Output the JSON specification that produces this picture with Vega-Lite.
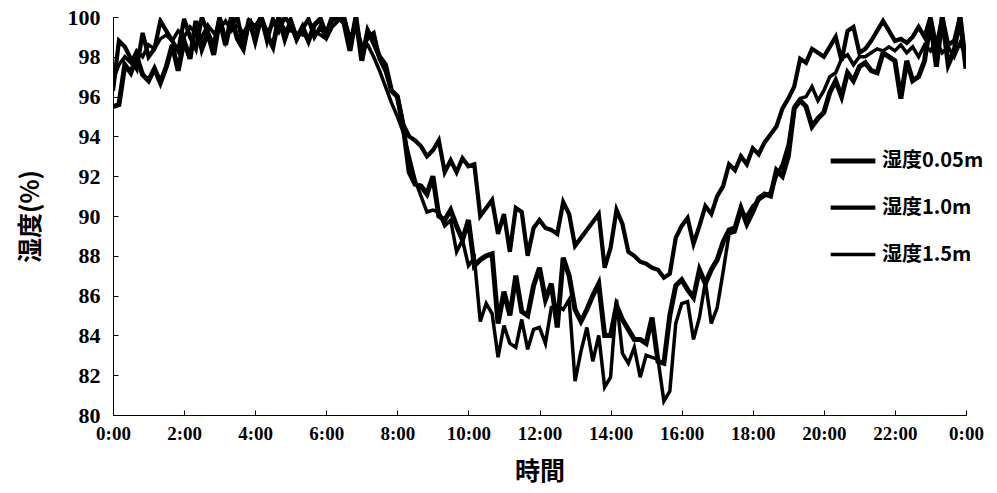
{
"$schema":"https://vega.github.io/schema/vega-lite/v6.json",
"width":853,"height":398,
"autosize":"none",
"padding":{"left":113,"top":17,"right":31,"bottom":78},
"background":"white",
"config":{"view":{"stroke":null}},
"data":{"values":[
{"m":0,"s":"0.05m","h":95.5},{"m":10,"s":"0.05m","h":95.6},{"m":20,"s":"0.05m","h":97.6},{"m":30,"s":"0.05m","h":97.2},{"m":40,"s":"0.05m","h":98.0},{"m":50,"s":"0.05m","h":97.1},
{"m":60,"s":"0.05m","h":96.8},{"m":70,"s":"0.05m","h":97.4},{"m":80,"s":"0.05m","h":96.7},{"m":90,"s":"0.05m","h":97.5},{"m":100,"s":"0.05m","h":98.6},{"m":110,"s":"0.05m","h":97.3},
{"m":120,"s":"0.05m","h":98.8},{"m":130,"s":"0.05m","h":97.9},{"m":140,"s":"0.05m","h":99.8},{"m":150,"s":"0.05m","h":98.4},{"m":160,"s":"0.05m","h":99.2},{"m":170,"s":"0.05m","h":98.1},
{"m":180,"s":"0.05m","h":99.9},{"m":190,"s":"0.05m","h":98.6},{"m":200,"s":"0.05m","h":100},{"m":210,"s":"0.05m","h":98.9},{"m":220,"s":"0.05m","h":98.4},{"m":230,"s":"0.05m","h":99.9},
{"m":240,"s":"0.05m","h":98.8},{"m":250,"s":"0.05m","h":100},{"m":260,"s":"0.05m","h":99.1},{"m":270,"s":"0.05m","h":98.5},{"m":280,"s":"0.05m","h":100},{"m":290,"s":"0.05m","h":98.9},
{"m":300,"s":"0.05m","h":99.8},{"m":310,"s":"0.05m","h":98.9},{"m":320,"s":"0.05m","h":99.5},{"m":330,"s":"0.05m","h":98.8},{"m":340,"s":"0.05m","h":99.6},{"m":350,"s":"0.05m","h":99.9},
{"m":360,"s":"0.05m","h":99.1},{"m":370,"s":"0.05m","h":100},{"m":380,"s":"0.05m","h":100},{"m":390,"s":"0.05m","h":99.7},{"m":400,"s":"0.05m","h":98.3},{"m":410,"s":"0.05m","h":100},
{"m":420,"s":"0.05m","h":97.8},{"m":430,"s":"0.05m","h":99.3},{"m":440,"s":"0.05m","h":98.7},{"m":450,"s":"0.05m","h":98.0},{"m":460,"s":"0.05m","h":97.6},{"m":470,"s":"0.05m","h":96.3},
{"m":480,"s":"0.05m","h":96.0},{"m":490,"s":"0.05m","h":94.5},{"m":500,"s":"0.05m","h":92.2},{"m":510,"s":"0.05m","h":91.6},{"m":520,"s":"0.05m","h":91.5},{"m":530,"s":"0.05m","h":91.1},
{"m":540,"s":"0.05m","h":92.0},{"m":550,"s":"0.05m","h":90.0},{"m":560,"s":"0.05m","h":89.8},{"m":570,"s":"0.05m","h":90.3},{"m":580,"s":"0.05m","h":89.5},{"m":590,"s":"0.05m","h":88.8},
{"m":600,"s":"0.05m","h":89.8},{"m":610,"s":"0.05m","h":87.5},{"m":620,"s":"0.05m","h":87.8},{"m":630,"s":"0.05m","h":88.0},{"m":640,"s":"0.05m","h":88.1},{"m":650,"s":"0.05m","h":84.6},
{"m":660,"s":"0.05m","h":86.2},{"m":670,"s":"0.05m","h":85.0},{"m":680,"s":"0.05m","h":87.0},{"m":690,"s":"0.05m","h":85.2},{"m":700,"s":"0.05m","h":85.0},{"m":710,"s":"0.05m","h":86.5},
{"m":720,"s":"0.05m","h":87.4},{"m":730,"s":"0.05m","h":85.8},{"m":740,"s":"0.05m","h":86.6},{"m":750,"s":"0.05m","h":84.4},{"m":760,"s":"0.05m","h":87.9},{"m":770,"s":"0.05m","h":87.0},
{"m":780,"s":"0.05m","h":85.3},{"m":790,"s":"0.05m","h":84.7},{"m":800,"s":"0.05m","h":85.3},{"m":810,"s":"0.05m","h":86.0},{"m":820,"s":"0.05m","h":86.6},{"m":830,"s":"0.05m","h":84.0},
{"m":840,"s":"0.05m","h":84.0},{"m":850,"s":"0.05m","h":85.5},{"m":860,"s":"0.05m","h":84.8},{"m":870,"s":"0.05m","h":84.3},{"m":880,"s":"0.05m","h":83.8},{"m":890,"s":"0.05m","h":83.8},
{"m":900,"s":"0.05m","h":83.6},{"m":910,"s":"0.05m","h":84.9},{"m":920,"s":"0.05m","h":82.7},{"m":930,"s":"0.05m","h":82.6},{"m":940,"s":"0.05m","h":85.0},{"m":950,"s":"0.05m","h":86.5},
{"m":960,"s":"0.05m","h":86.8},{"m":970,"s":"0.05m","h":86.3},{"m":980,"s":"0.05m","h":85.9},{"m":990,"s":"0.05m","h":87.3},{"m":1000,"s":"0.05m","h":86.6},{"m":1010,"s":"0.05m","h":87.3},
{"m":1020,"s":"0.05m","h":87.8},{"m":1030,"s":"0.05m","h":88.7},{"m":1040,"s":"0.05m","h":89.3},{"m":1050,"s":"0.05m","h":89.4},{"m":1060,"s":"0.05m","h":90.4},{"m":1070,"s":"0.05m","h":89.6},
{"m":1080,"s":"0.05m","h":90.2},{"m":1090,"s":"0.05m","h":90.9},{"m":1100,"s":"0.05m","h":91.1},{"m":1110,"s":"0.05m","h":91.0},{"m":1120,"s":"0.05m","h":92.3},{"m":1130,"s":"0.05m","h":92.0},
{"m":1140,"s":"0.05m","h":93.0},{"m":1150,"s":"0.05m","h":95.4},{"m":1160,"s":"0.05m","h":95.8},{"m":1170,"s":"0.05m","h":95.5},{"m":1180,"s":"0.05m","h":94.5},{"m":1190,"s":"0.05m","h":94.9},
{"m":1200,"s":"0.05m","h":95.2},{"m":1210,"s":"0.05m","h":96.2},{"m":1220,"s":"0.05m","h":96.8},{"m":1230,"s":"0.05m","h":96.0},{"m":1240,"s":"0.05m","h":97.2},{"m":1250,"s":"0.05m","h":96.8},
{"m":1260,"s":"0.05m","h":97.5},{"m":1270,"s":"0.05m","h":97.7},{"m":1280,"s":"0.05m","h":97.3},{"m":1290,"s":"0.05m","h":97.2},{"m":1300,"s":"0.05m","h":98.2},{"m":1310,"s":"0.05m","h":98.0},
{"m":1320,"s":"0.05m","h":97.8},{"m":1330,"s":"0.05m","h":95.9},{"m":1340,"s":"0.05m","h":97.8},{"m":1350,"s":"0.05m","h":96.8},{"m":1360,"s":"0.05m","h":97.0},{"m":1370,"s":"0.05m","h":97.8},
{"m":1380,"s":"0.05m","h":99.8},{"m":1390,"s":"0.05m","h":97.5},{"m":1400,"s":"0.05m","h":100},{"m":1410,"s":"0.05m","h":97.6},{"m":1420,"s":"0.05m","h":98.3},{"m":1430,"s":"0.05m","h":100},{"m":1440,"s":"0.05m","h":97.4},

{"m":0,"s":"1.0m","h":96.3},{"m":10,"s":"1.0m","h":98.8},{"m":20,"s":"1.0m","h":98.5},{"m":30,"s":"1.0m","h":97.9},{"m":40,"s":"1.0m","h":97.4},{"m":50,"s":"1.0m","h":99.2},
{"m":60,"s":"1.0m","h":98.0},{"m":70,"s":"1.0m","h":98.4},{"m":80,"s":"1.0m","h":99.8},{"m":90,"s":"1.0m","h":99.3},{"m":100,"s":"1.0m","h":98.8},{"m":110,"s":"1.0m","h":98.3},
{"m":120,"s":"1.0m","h":99.9},{"m":130,"s":"1.0m","h":99.0},{"m":140,"s":"1.0m","h":98.4},{"m":150,"s":"1.0m","h":100},{"m":160,"s":"1.0m","h":99.2},{"m":170,"s":"1.0m","h":98.6},
{"m":180,"s":"1.0m","h":100},{"m":190,"s":"1.0m","h":98.8},{"m":200,"s":"1.0m","h":99.6},{"m":210,"s":"1.0m","h":100},{"m":220,"s":"1.0m","h":98.5},{"m":230,"s":"1.0m","h":99.8},
{"m":240,"s":"1.0m","h":99.5},{"m":250,"s":"1.0m","h":100},{"m":260,"s":"1.0m","h":98.8},{"m":270,"s":"1.0m","h":99.9},{"m":280,"s":"1.0m","h":99.3},{"m":290,"s":"1.0m","h":100},
{"m":300,"s":"1.0m","h":99.6},{"m":310,"s":"1.0m","h":98.9},{"m":320,"s":"1.0m","h":99.4},{"m":330,"s":"1.0m","h":99.9},{"m":340,"s":"1.0m","h":99.0},{"m":350,"s":"1.0m","h":99.5},
{"m":360,"s":"1.0m","h":99.0},{"m":370,"s":"1.0m","h":99.8},{"m":380,"s":"1.0m","h":100},{"m":390,"s":"1.0m","h":100},{"m":400,"s":"1.0m","h":98.6},{"m":410,"s":"1.0m","h":99.8},
{"m":420,"s":"1.0m","h":98.2},{"m":430,"s":"1.0m","h":99.0},{"m":440,"s":"1.0m","h":99.2},{"m":450,"s":"1.0m","h":97.9},{"m":460,"s":"1.0m","h":97.3},{"m":470,"s":"1.0m","h":96.3},
{"m":480,"s":"1.0m","h":96.0},{"m":490,"s":"1.0m","h":94.6},{"m":500,"s":"1.0m","h":94.0},{"m":510,"s":"1.0m","h":93.8},{"m":520,"s":"1.0m","h":93.5},{"m":530,"s":"1.0m","h":93.0},
{"m":540,"s":"1.0m","h":93.3},{"m":550,"s":"1.0m","h":93.8},{"m":560,"s":"1.0m","h":92.2},{"m":570,"s":"1.0m","h":92.8},{"m":580,"s":"1.0m","h":92.2},{"m":590,"s":"1.0m","h":92.9},
{"m":600,"s":"1.0m","h":92.5},{"m":610,"s":"1.0m","h":92.6},{"m":620,"s":"1.0m","h":90.0},{"m":630,"s":"1.0m","h":90.4},{"m":640,"s":"1.0m","h":90.8},{"m":650,"s":"1.0m","h":89.1},
{"m":660,"s":"1.0m","h":90.1},{"m":670,"s":"1.0m","h":88.2},{"m":680,"s":"1.0m","h":90.4},{"m":690,"s":"1.0m","h":90.2},{"m":700,"s":"1.0m","h":88.0},{"m":710,"s":"1.0m","h":89.4},
{"m":720,"s":"1.0m","h":89.8},{"m":730,"s":"1.0m","h":89.4},{"m":740,"s":"1.0m","h":89.3},{"m":750,"s":"1.0m","h":89.1},{"m":760,"s":"1.0m","h":90.7},{"m":770,"s":"1.0m","h":90.1},
{"m":780,"s":"1.0m","h":88.5},{"m":790,"s":"1.0m","h":88.9},{"m":800,"s":"1.0m","h":89.3},{"m":810,"s":"1.0m","h":89.7},{"m":820,"s":"1.0m","h":90.1},{"m":830,"s":"1.0m","h":87.4},
{"m":840,"s":"1.0m","h":88.4},{"m":850,"s":"1.0m","h":90.3},{"m":860,"s":"1.0m","h":89.6},{"m":870,"s":"1.0m","h":88.2},{"m":880,"s":"1.0m","h":88.0},{"m":890,"s":"1.0m","h":87.7},
{"m":900,"s":"1.0m","h":87.6},{"m":910,"s":"1.0m","h":87.4},{"m":920,"s":"1.0m","h":87.3},{"m":930,"s":"1.0m","h":86.9},{"m":940,"s":"1.0m","h":87.1},{"m":950,"s":"1.0m","h":88.9},
{"m":960,"s":"1.0m","h":89.5},{"m":970,"s":"1.0m","h":89.9},{"m":980,"s":"1.0m","h":88.6},{"m":990,"s":"1.0m","h":89.5},{"m":1000,"s":"1.0m","h":90.5},{"m":1010,"s":"1.0m","h":90.1},
{"m":1020,"s":"1.0m","h":91.0},{"m":1030,"s":"1.0m","h":91.5},{"m":1040,"s":"1.0m","h":92.6},{"m":1050,"s":"1.0m","h":92.3},{"m":1060,"s":"1.0m","h":93.0},{"m":1070,"s":"1.0m","h":92.6},
{"m":1080,"s":"1.0m","h":93.4},{"m":1090,"s":"1.0m","h":93.1},{"m":1100,"s":"1.0m","h":93.7},{"m":1110,"s":"1.0m","h":94.1},{"m":1120,"s":"1.0m","h":94.5},{"m":1130,"s":"1.0m","h":95.4},
{"m":1140,"s":"1.0m","h":95.9},{"m":1150,"s":"1.0m","h":96.5},{"m":1160,"s":"1.0m","h":97.9},{"m":1170,"s":"1.0m","h":97.7},{"m":1180,"s":"1.0m","h":98.4},{"m":1190,"s":"1.0m","h":98.2},
{"m":1200,"s":"1.0m","h":98.0},{"m":1210,"s":"1.0m","h":98.5},{"m":1220,"s":"1.0m","h":99.0},{"m":1230,"s":"1.0m","h":97.8},{"m":1240,"s":"1.0m","h":99.3},{"m":1250,"s":"1.0m","h":99.5},
{"m":1260,"s":"1.0m","h":98.2},{"m":1270,"s":"1.0m","h":98.4},{"m":1280,"s":"1.0m","h":98.8},{"m":1290,"s":"1.0m","h":99.3},{"m":1300,"s":"1.0m","h":99.8},{"m":1310,"s":"1.0m","h":99.3},
{"m":1320,"s":"1.0m","h":98.8},{"m":1330,"s":"1.0m","h":98.9},{"m":1340,"s":"1.0m","h":98.7},{"m":1350,"s":"1.0m","h":99.0},{"m":1360,"s":"1.0m","h":99.5},{"m":1370,"s":"1.0m","h":99.0},
{"m":1380,"s":"1.0m","h":100},{"m":1390,"s":"1.0m","h":98.5},{"m":1400,"s":"1.0m","h":100},{"m":1410,"s":"1.0m","h":98.6},{"m":1420,"s":"1.0m","h":98.8},{"m":1430,"s":"1.0m","h":100},{"m":1440,"s":"1.0m","h":97.5},

{"m":0,"s":"1.5m","h":96.8},{"m":10,"s":"1.5m","h":97.6},{"m":20,"s":"1.5m","h":98.0},{"m":30,"s":"1.5m","h":97.7},{"m":40,"s":"1.5m","h":98.3},{"m":50,"s":"1.5m","h":98.0},
{"m":60,"s":"1.5m","h":98.6},{"m":70,"s":"1.5m","h":98.4},{"m":80,"s":"1.5m","h":98.9},{"m":90,"s":"1.5m","h":99.1},{"m":100,"s":"1.5m","h":98.8},{"m":110,"s":"1.5m","h":99.3},
{"m":120,"s":"1.5m","h":99.0},{"m":130,"s":"1.5m","h":99.5},{"m":140,"s":"1.5m","h":99.2},{"m":150,"s":"1.5m","h":99.0},{"m":160,"s":"1.5m","h":99.6},{"m":170,"s":"1.5m","h":99.2},
{"m":180,"s":"1.5m","h":99.4},{"m":190,"s":"1.5m","h":99.8},{"m":200,"s":"1.5m","h":99.3},{"m":210,"s":"1.5m","h":99.6},{"m":220,"s":"1.5m","h":99.2},{"m":230,"s":"1.5m","h":99.7},
{"m":240,"s":"1.5m","h":99.5},{"m":250,"s":"1.5m","h":99.9},{"m":260,"s":"1.5m","h":99.3},{"m":270,"s":"1.5m","h":99.6},{"m":280,"s":"1.5m","h":99.8},{"m":290,"s":"1.5m","h":99.4},
{"m":300,"s":"1.5m","h":99.3},{"m":310,"s":"1.5m","h":99.2},{"m":320,"s":"1.5m","h":99.1},{"m":330,"s":"1.5m","h":99.0},{"m":340,"s":"1.5m","h":99.3},{"m":350,"s":"1.5m","h":99.1},
{"m":360,"s":"1.5m","h":98.9},{"m":370,"s":"1.5m","h":99.5},{"m":380,"s":"1.5m","h":99.8},{"m":390,"s":"1.5m","h":100},{"m":400,"s":"1.5m","h":99.0},{"m":410,"s":"1.5m","h":99.5},
{"m":420,"s":"1.5m","h":98.6},{"m":430,"s":"1.5m","h":98.6},{"m":440,"s":"1.5m","h":98.0},{"m":450,"s":"1.5m","h":97.3},{"m":460,"s":"1.5m","h":96.5},{"m":470,"s":"1.5m","h":95.7},
{"m":480,"s":"1.5m","h":95.0},{"m":490,"s":"1.5m","h":94.2},{"m":500,"s":"1.5m","h":93.0},{"m":510,"s":"1.5m","h":91.8},{"m":520,"s":"1.5m","h":91.0},{"m":530,"s":"1.5m","h":90.2},
{"m":540,"s":"1.5m","h":90.3},{"m":550,"s":"1.5m","h":90.2},{"m":560,"s":"1.5m","h":89.5},{"m":570,"s":"1.5m","h":89.8},{"m":580,"s":"1.5m","h":88.2},{"m":590,"s":"1.5m","h":88.8},
{"m":600,"s":"1.5m","h":87.5},{"m":610,"s":"1.5m","h":87.9},{"m":620,"s":"1.5m","h":84.7},{"m":630,"s":"1.5m","h":85.6},{"m":640,"s":"1.5m","h":85.1},{"m":650,"s":"1.5m","h":82.9},
{"m":660,"s":"1.5m","h":84.5},{"m":670,"s":"1.5m","h":83.6},{"m":680,"s":"1.5m","h":83.4},{"m":690,"s":"1.5m","h":84.8},{"m":700,"s":"1.5m","h":83.3},{"m":710,"s":"1.5m","h":84.3},
{"m":720,"s":"1.5m","h":84.4},{"m":730,"s":"1.5m","h":83.6},{"m":740,"s":"1.5m","h":85.4},{"m":750,"s":"1.5m","h":85.5},{"m":760,"s":"1.5m","h":85.3},{"m":770,"s":"1.5m","h":85.8},
{"m":780,"s":"1.5m","h":81.7},{"m":790,"s":"1.5m","h":83.2},{"m":800,"s":"1.5m","h":84.4},{"m":810,"s":"1.5m","h":82.7},{"m":820,"s":"1.5m","h":84.0},{"m":830,"s":"1.5m","h":81.4},
{"m":840,"s":"1.5m","h":81.9},{"m":850,"s":"1.5m","h":85.8},{"m":860,"s":"1.5m","h":83.1},{"m":870,"s":"1.5m","h":82.6},{"m":880,"s":"1.5m","h":83.4},{"m":890,"s":"1.5m","h":81.9},
{"m":900,"s":"1.5m","h":83.0},{"m":910,"s":"1.5m","h":82.9},{"m":920,"s":"1.5m","h":82.8},{"m":930,"s":"1.5m","h":80.7},{"m":940,"s":"1.5m","h":81.2},{"m":950,"s":"1.5m","h":84.6},
{"m":960,"s":"1.5m","h":85.6},{"m":970,"s":"1.5m","h":85.7},{"m":980,"s":"1.5m","h":83.8},{"m":990,"s":"1.5m","h":84.9},{"m":1000,"s":"1.5m","h":86.7},{"m":1010,"s":"1.5m","h":84.6},
{"m":1020,"s":"1.5m","h":85.4},{"m":1030,"s":"1.5m","h":87.2},{"m":1040,"s":"1.5m","h":89.1},{"m":1050,"s":"1.5m","h":89.2},{"m":1060,"s":"1.5m","h":90.2},{"m":1070,"s":"1.5m","h":90.0},
{"m":1080,"s":"1.5m","h":90.5},{"m":1090,"s":"1.5m","h":90.8},{"m":1100,"s":"1.5m","h":91.0},{"m":1110,"s":"1.5m","h":91.2},{"m":1120,"s":"1.5m","h":92.0},{"m":1130,"s":"1.5m","h":92.6},
{"m":1140,"s":"1.5m","h":93.6},{"m":1150,"s":"1.5m","h":95.5},{"m":1160,"s":"1.5m","h":95.9},{"m":1170,"s":"1.5m","h":96.0},{"m":1180,"s":"1.5m","h":96.5},{"m":1190,"s":"1.5m","h":95.8},
{"m":1200,"s":"1.5m","h":96.3},{"m":1210,"s":"1.5m","h":97.0},{"m":1220,"s":"1.5m","h":97.2},{"m":1230,"s":"1.5m","h":97.9},{"m":1240,"s":"1.5m","h":98.1},{"m":1250,"s":"1.5m","h":97.6},
{"m":1260,"s":"1.5m","h":98.0},{"m":1270,"s":"1.5m","h":98.0},{"m":1280,"s":"1.5m","h":98.2},{"m":1290,"s":"1.5m","h":98.4},{"m":1300,"s":"1.5m","h":98.3},{"m":1310,"s":"1.5m","h":98.5},
{"m":1320,"s":"1.5m","h":98.3},{"m":1330,"s":"1.5m","h":98.6},{"m":1340,"s":"1.5m","h":98.2},{"m":1350,"s":"1.5m","h":98.5},{"m":1360,"s":"1.5m","h":98.0},{"m":1370,"s":"1.5m","h":98.6},
{"m":1380,"s":"1.5m","h":98.3},{"m":1390,"s":"1.5m","h":98.8},{"m":1400,"s":"1.5m","h":98.2},{"m":1410,"s":"1.5m","h":98.5},{"m":1420,"s":"1.5m","h":98.0},{"m":1430,"s":"1.5m","h":98.7},{"m":1440,"s":"1.5m","h":98.0}
]},
"mark":{"type":"line","color":"black","clip":true,"strokeJoin":"miter"},
"encoding":{
"x":{"field":"m","type":"quantitative","scale":{"domain":[0,1440],"nice":false,"zero":false},
"axis":{"values":[0,120,240,360,480,600,720,840,960,1080,1200,1320,1440],"labelExpr":"floor(datum.value/60)%24 + ':00'","title":"時間","grid":false,"domainColor":"black","domainWidth":1,"tickColor":"black","tickSize":-5,"labelFont":"Liberation Serif","labelFontWeight":"bold","labelFontSize":19,"labelColor":"black","labelPadding":14,"labelFlush":false,"labelOverlap":false,"titleFont":"Noto Sans CJK JP","titleFontSize":25,"titleFontWeight":"bold","titleColor":"black","titlePadding":16}},
"y":{"field":"h","type":"quantitative","scale":{"domain":[80,100],"nice":false,"zero":false},
"axis":{"values":[80,82,84,86,88,90,92,94,96,98,100],"title":"湿度(%)","grid":false,"domainColor":"black","domainWidth":1,"tickColor":"black","tickSize":-5,"labelFont":"Liberation Serif","labelFontWeight":"bold","labelFontSize":22,"labelColor":"black","labelPadding":18,"labelFlush":false,"labelOverlap":false,"titleFont":"Noto Sans CJK JP","titleFontSize":25,"titleFontWeight":"bold","titleColor":"black","titlePadding":24}},
"strokeWidth":{"field":"s","type":"nominal","scale":{"domain":["0.05m","1.0m","1.5m"],"range":[5,3.5,1.6]},
"legend":{"orient":"none","legendX":715,"legendY":119,"title":null,"labelExpr":"'湿度' + datum.label","symbolType":"stroke","symbolSize":2000,"symbolStrokeColor":"black","labelFont":"Noto Sans CJK JP","labelFontSize":20,"labelFontWeight":"bold","labelColor":"black","rowPadding":12,"labelOffset":4}},
"detail":{"field":"s"}
}
}
